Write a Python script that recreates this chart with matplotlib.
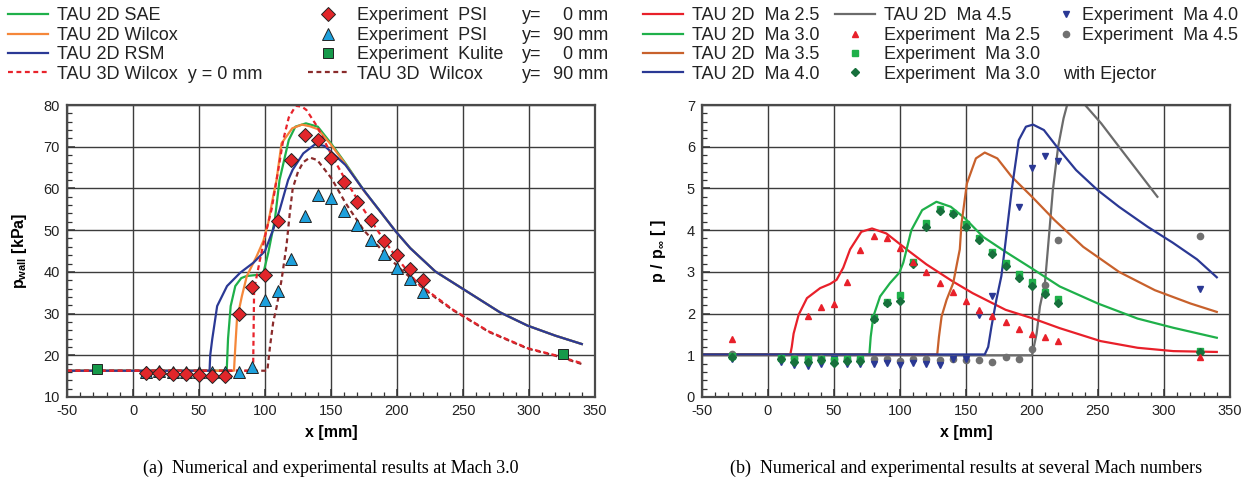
import matplotlib
matplotlib.use("Agg")
import matplotlib.pyplot as plt
from matplotlib.ticker import MultipleLocator

plt.rcParams['font.family'] = ['Liberation Sans', 'DejaVu Sans']
plt.rcParams['mathtext.fontset'] = 'custom'
plt.rcParams['mathtext.rm'] = 'Liberation Sans'
plt.rcParams['mathtext.bf'] = 'Liberation Sans:bold'
plt.rcParams['axes.unicode_minus'] = False

# ---- (a) Mach 3.0 : wall pressure [kPa] ----
sae_x = [-50, 71, 72, 74, 77.5, 82, 86, 92, 98.5, 102.5, 107.5, 111, 118, 123, 131, 140,
         150, 161, 175, 188, 199, 210, 229, 251, 278, 299, 320, 340]
sae_y = [16.3, 16.3, 24, 31.8, 36.6, 38.5, 39, 39.2, 39.4, 44.6, 52.6, 62, 71.6, 74.8, 75.6,
         74.8, 70.8, 66, 59.5, 54.2, 49.7, 45.7, 40.1, 35.7, 30.3, 27.1, 24.7, 22.7]
wil_x = [-50, 76.5, 77.5, 78.75, 82.5, 86.25, 93.75, 98.75, 102.5, 106.25, 108.75, 112.5,
         120.6, 128, 134, 140, 150, 161, 175, 188, 199, 210, 229, 251, 278, 299, 320, 340]
wil_y = [16.3, 16.3, 22, 28.6, 34.2, 39, 43.8, 47.4, 51.8, 58.2, 62, 70.8, 74.4, 75.3, 74.9,
         74.2, 70.5, 65.8, 59.4, 54.2, 49.7, 45.7, 40.1, 35.7, 30.3, 27.1, 24.7, 22.7]
rsm_x = [-50, 58, 58.5, 60, 63.75, 71.25, 81.25, 91.25, 100, 106.25, 111.25, 117.5, 121,
         129, 138, 145, 150, 161, 175, 188, 199, 210, 229, 251, 278, 299, 320, 340]
rsm_y = [16.3, 16.3, 20, 23.8, 31.8, 36.6, 39.8, 42.2, 45, 50.2, 55, 62, 64.5, 68.4, 70.6,
         70.2, 68.8, 65.6, 59.5, 54.2, 49.7, 45.7, 40.1, 35.7, 30.3, 27.1, 24.7, 22.7]
w3d0_x = [-50, 91, 91.75, 96.25, 101.25, 105, 108.75, 113.8, 118, 123.3, 128, 131.4, 139.6,
          150.4, 161, 174.8, 188.3, 199, 215.4, 242.5, 269.6, 299, 320, 340]
w3d0_y = [16.3, 16.3, 35.8, 43, 50.2, 55, 62, 71.6, 77, 79.8, 79.6, 78.8, 74.8, 68, 62,
          54.9, 48.5, 43.7, 37.3, 30.9, 25.7, 21.7, 20.0, 18.1]
w3d90_x = [-50, 101.75, 103.75, 106.25, 108.75, 112.5, 116.25, 118.75, 121, 125, 129, 134,
           139.6, 150.4, 161, 174.8, 188.3, 201.8, 215, 230, 242.5, 269.6, 299, 320, 340]
w3d90_y = [16.3, 16.3, 22, 28, 31.5, 38, 46.2, 54, 60, 64, 66.3, 67.4, 66.8, 62.4, 56.5,
           50, 45.3, 40.9, 37.3, 33.6, 30.8, 25.6, 21.6, 19.9, 17.9]

psi_x = [10, 20, 30, 40, 50, 60, 70, 80, 90, 100, 110, 120, 130, 140, 150, 160, 170, 180,
         190, 200, 210, 220]
psi0_y = [15.8, 15.8, 15.6, 15.6, 15.3, 15.1, 15.0, 29.9, 36.3, 39.3, 52.1, 66.8, 72.7,
          71.6, 67.4, 61.6, 56.8, 52.4, 47.4, 44.0, 40.7, 38.0]
psi90_y = [16.0, 16.3, 16.0, 16.1, 16.0, 16.1, 16.1, 16.0, 17.3, 33.2, 35.5, 43.1, 53.5,
           58.4, 57.8, 54.6, 51.3, 47.6, 44.4, 40.9, 38.3, 35.1]
kulite_x = [-27, 326]
kulite_y = [16.6, 20.3]

# ---- (b) several Mach numbers : p / p_inf ----
ma25_x = [-50, 16.9, 18, 19.4, 23.2, 29.5, 39.5, 47, 52, 57, 62.2, 70.7, 78.8, 89.7, 105,
          120, 140, 155, 180, 200, 221, 252, 280, 307, 340]
ma25_y = [1.02, 1.02, 1.2, 1.52, 1.97, 2.37, 2.61, 2.71, 2.81, 3.1, 3.54, 3.96, 4.04, 3.92,
          3.54, 3.18, 2.77, 2.49, 2.09, 1.89, 1.65, 1.34, 1.18, 1.1, 1.08]
ma30_x = [-50, 76.8, 77.8, 79.8, 84.9, 92.4, 99.5, 102.5, 105, 108.6, 116.8, 127.6, 138.5,
          149.3, 162.9, 180, 200, 221, 250, 280, 307, 340]
ma30_y = [1.02, 1.02, 1.44, 1.93, 2.41, 2.73, 2.98, 3.22, 3.54, 4.0, 4.48, 4.68, 4.56,
          4.28, 3.84, 3.48, 3.08, 2.65, 2.24, 1.88, 1.66, 1.42]
ma35_x = [-50, 128.2, 129.5, 131.5, 135.3, 140.3, 143.3, 145.3, 146.6, 150.7, 157.5, 164.2,
          173.7, 184.6, 200, 217.1, 238.8, 265.9, 293.1, 320.2, 340]
ma35_y = [1.02, 1.02, 1.44, 1.93, 2.33, 2.73, 3.22, 3.54, 4.16, 5.12, 5.72, 5.86, 5.72,
          5.28, 4.8, 4.24, 3.6, 3.0, 2.56, 2.24, 2.04]
ma40_x = [-50, 164.2, 166.8, 169.3, 173, 176.8, 179.3, 184.6, 190, 195.4, 200.8, 209,
          219.8, 233.4, 249.7, 265.9, 287.6, 306.6, 325, 340]
ma40_y = [1.02, 1.02, 1.2, 1.69, 2.33, 2.9, 3.54, 4.96, 6.16, 6.48, 6.53, 6.4, 5.96, 5.44,
          4.96, 4.56, 4.08, 3.7, 3.3, 2.87]
ma45_x = [-50, 200, 201, 203.5, 206, 209.8, 212, 215.8, 219.8, 223.9, 226.6, 232, 240.2,
          252.4, 265.9, 279.5, 295]
ma45_y = [1.0, 1.0, 1.14, 1.52, 2.17, 2.73, 3.54, 4.96, 6.0, 6.68, 7.0, 7.3, 7.0, 6.56,
          6.0, 5.44, 4.8]

exp_x = [-27, 10, 20, 30, 40, 50, 60, 70, 80, 90, 100, 110, 120, 130, 140, 150, 160, 170,
         180, 190, 200, 210, 220, 327]
exp25_x = [-27, 30, 40, 50, 60, 70, 80, 90, 100, 110, 120, 130, 140, 150, 160, 170, 180,
           190, 200, 210, 220, 327]
exp25_y = [1.38, 1.94, 2.15, 2.23, 2.76, 3.53, 3.86, 3.81, 3.56, 3.24, 2.99, 2.73, 2.51,
           2.29, 2.09, 1.93, 1.79, 1.63, 1.52, 1.43, 1.35, 0.96]
exp30_y = [0.98, 0.93, 0.9, 0.92, 0.9, 0.88, 0.9, 0.9, 1.89, 2.27, 2.45, 3.24, 4.16, 4.5,
           4.42, 4.14, 3.8, 3.48, 3.22, 2.94, 2.75, 2.51, 2.35, 1.1]
exp30e_y = [0.95, 0.9, 0.84, 0.85, 0.88, 0.81, 0.87, 0.86, 1.87, 2.25, 2.31, 3.18, 4.08,
            4.46, 4.38, 4.08, 3.76, 3.43, 3.14, 2.86, 2.65, 2.47, 2.25, 1.08]
exp40_y = [0.9, 0.84, 0.76, 0.74, 0.78, 0.92, 0.8, 0.8, 0.8, 0.82, 0.76, 0.81, 0.8, 0.77,
           0.9, 0.9, 1.97, 2.43, 3.2, 4.56, 5.5, 5.78, 5.66, 2.58]
exp45_y = [1.04, 0.93, 0.93, 0.92, 0.93, 0.92, 0.9, 0.9, 0.9, 0.92, 0.86, 0.9, 0.9, 0.88,
           0.9, 0.88, 0.88, 0.84, 0.96, 0.9, 1.14, 2.68, 3.76, 3.86]

W, H = 1253, 483
fig = plt.figure(figsize=(W / 100, H / 100), dpi=100)
ax1 = fig.add_axes([67 / W, 1 - 397 / H, 528 / W, 292 / H])
ax2 = fig.add_axes([702 / W, 1 - 397 / H, 528 / W, 292 / H])

lw = 1.6
l_sae, = ax1.plot(sae_x, sae_y, color='#1fb04a', lw=lw)
l_wil, = ax1.plot(wil_x, wil_y, color='#f5873a', lw=lw)
l_rsm, = ax1.plot(rsm_x, rsm_y, color='#2b3995', lw=lw)
l_3d90, = ax1.plot(w3d90_x, w3d90_y, color='#8a2b2b', lw=lw, ls=(0, (2.2, 1.6)))
l_3d0, = ax1.plot(w3d0_x, w3d0_y, color='#e8232b', lw=lw, ls=(0, (2.2, 1.6)))
m_psi90, = ax1.plot(psi_x, psi90_y, ls='none', marker='^', ms=8, mfc='#1ea0dc',
                    mec='#222222', mew=0.7, zorder=3)
m_psi0, = ax1.plot(psi_x, psi0_y, ls='none', marker='D', ms=7, mfc='#e1262a',
                   mec='#222222', mew=0.7, zorder=4)
m_kul, = ax1.plot(kulite_x, kulite_y, ls='none', marker='s', ms=7, mfc='#16994a',
                  mec='#222222', mew=0.7, zorder=4)

l45, = ax2.plot(ma45_x, ma45_y, color='#6b6b6b', lw=lw)
l25, = ax2.plot(ma25_x, ma25_y, color='#e8202a', lw=lw)
l30, = ax2.plot(ma30_x, ma30_y, color='#1fb04a', lw=lw)
l35, = ax2.plot(ma35_x, ma35_y, color='#c8612c', lw=lw)
l40, = ax2.plot(ma40_x, ma40_y, color='#2a3894', lw=lw)
m45, = ax2.plot(exp_x, exp45_y, ls='none', marker='o', ms=4.5, color='#707070', zorder=3)
m40, = ax2.plot(exp_x, exp40_y, ls='none', marker='v', ms=5, color='#2a3894', zorder=3)
m30, = ax2.plot(exp_x, exp30_y, ls='none', marker='s', ms=4.2, color='#1fb04a', zorder=3)
m30e, = ax2.plot(exp_x, exp30e_y, ls='none', marker='D', ms=3.6, color='#17703c', zorder=3)
m25, = ax2.plot(exp25_x, exp25_y, ls='none', marker='^', ms=5, color='#e8202a', zorder=3)

for ax in (ax1, ax2):
    ax.set_xlim(-50, 350)
    ax.xaxis.set_major_locator(MultipleLocator(50))
    ax.xaxis.set_minor_locator(MultipleLocator(10))
    ax.grid(True, which='major', color='#3c3c3c', lw=1.0)
    ax.set_axisbelow(True)
    ax.tick_params(which='both', direction='in', top=False, right=False,
                   labelsize=10.5, colors='#333333', labelcolor='#222222', pad=5)
    ax.tick_params(which='major', length=6, width=1.1)
    ax.tick_params(which='minor', length=3.5, width=0.9)
    for s in ax.spines.values():
        s.set_color('#4a4a4a')
        s.set_linewidth(1.6)
    ax.set_xlabel('x [mm]', fontsize=11.5, fontweight='bold', labelpad=5)

ax1.set_ylim(10, 80)
ax1.yaxis.set_major_locator(MultipleLocator(10))
ax1.yaxis.set_minor_locator(MultipleLocator(2))
ax1.set_ylabel(r'$\mathbf{p_{wall}}$ [kPa]', fontsize=11.5, fontweight='bold')
ax1.yaxis.set_label_coords(-0.072, 0.5)

ax2.set_ylim(0, 7)
ax2.yaxis.set_major_locator(MultipleLocator(1))
ax2.yaxis.set_minor_locator(MultipleLocator(0.2))
ax2.set_ylabel(r'$\mathbf{p\ /\ p_{\infty}}$ [ ]', fontsize=11.5, fontweight='bold')
ax2.yaxis.set_label_coords(-0.064, 0.5)

leg_kw = dict(loc='upper left', frameon=False, borderpad=0, borderaxespad=0,
              fontsize=13, labelspacing=0.13, handletextpad=0.5, handlelength=2.2)


def column(handles, labels, x, **kw):
    opts = dict(leg_kw)
    opts.update(kw)
    return fig.legend(handles, labels, bbox_to_anchor=(x / W, 1 - 7.5 / H), **opts)


la = column([l_sae, l_wil, l_rsm, l_3d0],
            ['TAU 2D SAE', 'TAU 2D Wilcox', 'TAU 2D RSM', 'TAU 3D Wilcox  y = 0 mm'], 8)
lb = column([m_psi0, m_psi90, m_kul, l_3d90],
            ['Experiment  PSI', 'Experiment  PSI', 'Experiment  Kulite', 'TAU 3D  Wilcox'],
            308)
lc = column([l25, l30, l35, l40],
            ['TAU 2D  Ma 2.5', 'TAU 2D  Ma 3.0', 'TAU 2D  Ma 3.5', 'TAU 2D  Ma 4.0'], 643)
ld = column([l45, m25, m30, m30e],
            ['TAU 2D  Ma 4.5', 'Experiment  Ma 2.5', 'Experiment  Ma 3.0',
             'Experiment  Ma 3.0'], 835)
le = column([m40, m45], ['Experiment  Ma 4.0', 'Experiment  Ma 4.5'], 1059,
            handlelength=0.8)

fig.canvas.draw()
y_tail = ['0 mm', '90 mm', '0 mm', '90 mm']
for t, tail in zip(lb.get_texts(), y_tail):
    bb = t.get_window_extent()
    fig.text(522 / W, bb.y0 / H, 'y=', fontsize=13, va='bottom', ha='left', color='#222222')
    fig.text(608 / W, bb.y0 / H, tail, fontsize=13, va='bottom', ha='right', color='#222222')
bb = ld.get_texts()[3].get_window_extent()
fig.text(1063 / W, bb.y0 / H, 'with Ejector', fontsize=13, va='bottom', ha='left',
         color='#222222')

for lg in (la, lb, lc, ld, le):
    for t in lg.get_texts():
        t.set_color('#222222')

fig.text(331 / W, 1 - 468 / H, '(a)  Numerical and experimental results at Mach 3.0',
         ha='center', va='center', fontsize=13, family='Liberation Serif')
fig.text(966 / W, 1 - 468 / H,
         '(b)  Numerical and experimental results at several Mach numbers',
         ha='center', va='center', fontsize=13, family='Liberation Serif')

fig.savefig('out.png', dpi=100)
